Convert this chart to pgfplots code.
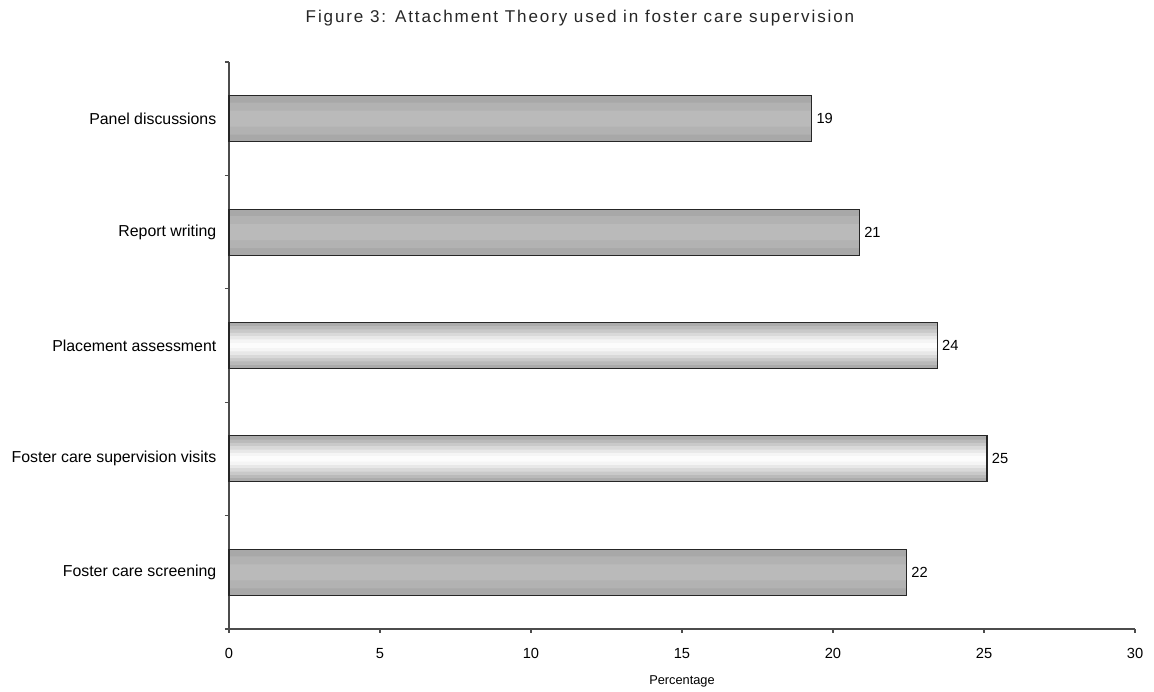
\documentclass[border=0pt]{standalone}
\usepackage{pgfplots}
\usepackage{pgfplotstable}
\pgfplotsset{compat=1.18}
\usepackage{fontspec}
\setmainfont{Liberation Sans}
\newfontfamily\titlefont[LetterSpace=11]{Liberation Sans}
\pgfplotstableread{
y x label
0 22.43 22
3 20.87 21
4 19.29 19
}\graydata
\pgfplotstableread{
y x label
1 25.10 25
2 23.45 24
}\shinydata
\begin{document}
\begin{tikzpicture}
\begin{axis}[
  name=ax,
  scale only axis,
  width=679.5pt, height=425.25pt,
  xmin=0, xmax=30, ymin=-0.5, ymax=4.5,
  axis lines*=left,
  axis line style={black!70, line width=0.8pt},
  xtick={0,5,...,30},
  tick align=outside,
  major tick length=3pt,
  tick style={black!70, line width=0.8pt},
  ytick={-0.5,0.5,1.5,2.5,3.5,4.5},
  yticklabels={},
  extra y ticks={0,1,2,3,4},
  extra y tick labels={Foster care screening, Foster care supervision visits, Placement assessment, Report writing, Panel discussions},
  extra y tick style={tick style={draw=none}},
  /pgf/number format/assume math mode=true,
  xticklabel style={font=\fontsize{11}{13}\selectfont, yshift=-8pt},
  yticklabel style={font=\fontsize{11.9}{14}\selectfont, xshift=-3pt},
  xlabel={Percentage},
  x label style={at={(axis description cs:0.5,0)}, anchor=center, yshift=-39.5pt, font=\fontsize{9.6}{12}\selectfont},
  xbar, bar shift=0pt,
  clip=false,
]
% grey bars: base and a faint lighter centre band
\addplot[fill=black!34, draw=none, bar width=34.5pt] table[x=x,y=y] {\graydata};
\addplot[fill=black!30, draw=none, bar width=24pt] table[x=x,y=y] {\graydata};
\addplot[fill=black!27, draw=none, bar width=12pt] table[x=x,y=y] {\graydata};
% shiny bars: grey edges fading to a white centre band
\addplot[fill=black!33, draw=none, bar width=34.5pt] table[x=x,y=y] {\shinydata};
\addplot[fill=black!27, draw=none, bar width=29pt] table[x=x,y=y] {\shinydata};
\addplot[fill=black!21, draw=none, bar width=24pt] table[x=x,y=y] {\shinydata};
\addplot[fill=black!15, draw=none, bar width=19pt] table[x=x,y=y] {\shinydata};
\addplot[fill=black!9, draw=none, bar width=14pt] table[x=x,y=y] {\shinydata};
\addplot[fill=black!4, draw=none, bar width=9pt] table[x=x,y=y] {\shinydata};
\addplot[fill=black!1, draw=none, bar width=4pt] table[x=x,y=y] {\shinydata};
% outlines with value labels
\addplot[draw=black!85, fill=none, line width=0.8pt, bar width=34.5pt,
  point meta=explicit symbolic, nodes near coords,
  nodes near coords style={anchor=west, font=\fontsize{11}{13}\selectfont, text=black}]
  table[x=x,y=y,meta=label] {\graydata};
\addplot[draw=black!85, fill=none, line width=0.8pt, bar width=34.5pt,
  point meta=explicit symbolic, nodes near coords,
  nodes near coords style={anchor=west, font=\fontsize{11}{13}\selectfont, text=black}]
  table[x=x,y=y,meta=label] {\shinydata};
\end{axis}
\node[font=\titlefont\fontsize{12.8}{15}\selectfont, text=black!85] at ([shift={(263.25pt,458.25pt)}]ax.south west) {Figure 3: Attachment Theory used in foster care supervision};
\path[use as bounding box] ([shift={(-171.75pt,-45pt)}]ax.south west) rectangle ++(865.5pt,516.75pt);
\end{tikzpicture}
\end{document}
